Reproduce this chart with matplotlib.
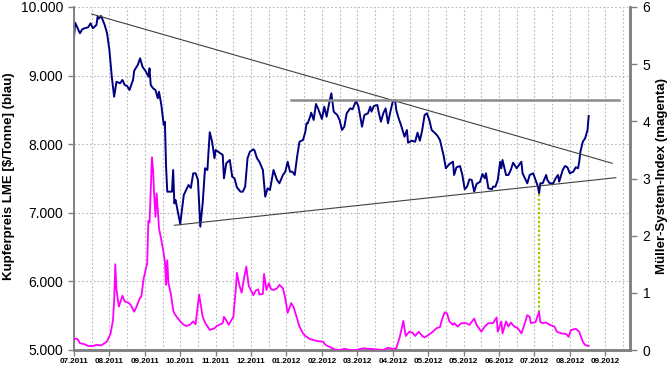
import pandas as pd
import matplotlib
matplotlib.use('Agg')
import matplotlib.pyplot as plt
from matplotlib.ticker import FuncFormatter, MultipleLocator

plt.rcParams['font.family'] = ['Liberation Sans', 'DejaVu Sans']

# Kupferpreis LME [$/Tonne] (blau)
kupfer_datum = [
    '2011-07-06', '2011-07-07', '2011-07-11', '2011-07-13', '2011-07-15', '2011-07-18', '2011-07-20',
    '2011-07-22', '2011-07-25', '2011-07-26', '2011-07-27', '2011-07-29', '2011-08-01', '2011-08-03',
    '2011-08-05', '2011-08-07', '2011-08-09', '2011-08-11', '2011-08-14', '2011-08-16', '2011-08-18',
    '2011-08-20', '2011-08-22', '2011-08-25', '2011-08-26', '2011-08-29', '2011-08-31', '2011-09-02',
    '2011-09-05', '2011-09-07', '2011-09-08', '2011-09-09', '2011-09-11', '2011-09-13', '2011-09-15',
    '2011-09-16', '2011-09-18', '2011-09-20', '2011-09-21', '2011-09-22', '2011-09-23', '2011-09-27',
    '2011-09-28', '2011-09-29', '2011-09-30', '2011-10-04', '2011-10-07', '2011-10-09', '2011-10-11',
    '2011-10-13', '2011-10-15', '2011-10-17', '2011-10-19', '2011-10-21', '2011-10-23', '2011-10-25',
    '2011-10-27', '2011-10-29', '2011-10-31', '2011-11-02', '2011-11-03', '2011-11-07', '2011-11-09',
    '2011-11-10', '2011-11-12', '2011-11-15', '2011-11-17', '2011-11-19', '2011-11-21', '2011-11-24',
    '2011-11-26', '2011-11-28', '2011-11-30', '2011-12-02', '2011-12-05', '2011-12-06', '2011-12-08',
    '2011-12-10', '2011-12-13', '2011-12-15', '2011-12-17', '2011-12-19', '2011-12-22', '2011-12-25',
    '2011-12-27', '2011-12-30', '2012-01-01', '2012-01-03', '2012-01-05', '2012-01-07', '2012-01-09',
    '2012-01-11', '2012-01-13', '2012-01-16', '2012-01-18', '2012-01-19', '2012-01-20', '2012-01-22',
    '2012-01-23', '2012-01-25', '2012-01-27', '2012-01-29', '2012-02-01', '2012-02-03', '2012-02-05',
    '2012-02-07', '2012-02-09', '2012-02-11', '2012-02-14', '2012-02-16', '2012-02-18', '2012-02-20',
    '2012-02-22', '2012-02-25', '2012-02-27', '2012-03-01', '2012-03-03', '2012-03-06', '2012-03-08',
    '2012-03-11', '2012-03-13', '2012-03-14', '2012-03-16', '2012-03-19', '2012-03-20', '2012-03-22',
    '2012-03-24', '2012-03-26', '2012-03-28', '2012-03-30', '2012-04-01', '2012-04-03', '2012-04-04',
    '2012-04-06', '2012-04-08', '2012-04-11', '2012-04-13', '2012-04-14', '2012-04-17', '2012-04-20',
    '2012-04-22', '2012-04-24', '2012-04-26', '2012-04-28', '2012-04-30', '2012-05-02', '2012-05-04',
    '2012-05-07', '2012-05-09', '2012-05-11', '2012-05-14', '2012-05-16', '2012-05-19', '2012-05-22',
    '2012-05-23', '2012-05-25', '2012-05-28', '2012-05-30', '2012-06-01', '2012-06-03', '2012-06-05',
    '2012-06-07', '2012-06-09', '2012-06-11', '2012-06-14', '2012-06-16', '2012-06-18', '2012-06-19',
    '2012-06-21', '2012-06-24', '2012-06-25', '2012-06-27', '2012-06-29', '2012-07-01', '2012-07-02',
    '2012-07-03', '2012-07-05', '2012-07-06', '2012-07-08', '2012-07-10', '2012-07-12', '2012-07-15',
    '2012-07-17', '2012-07-19', '2012-07-20', '2012-07-22', '2012-07-24', '2012-07-26', '2012-07-29',
    '2012-07-31', '2012-08-02', '2012-08-03', '2012-08-04', '2012-08-06', '2012-08-09', '2012-08-10',
    '2012-08-12', '2012-08-15', '2012-08-17', '2012-08-19', '2012-08-20', '2012-08-23', '2012-08-25',
    '2012-08-27', '2012-08-29', '2012-09-01', '2012-09-03', '2012-09-05', '2012-09-06', '2012-09-07',
    '2012-09-09', '2012-09-11', '2012-09-13', '2012-09-14',
]
kupfer_preis = [
    9567, 9771, 9617, 9675, 9690, 9704, 9762,
    9690, 9738, 9859, 9830, 9869, 9738, 9617,
    9373, 8984, 8692, 8911, 8888, 8936, 8863,
    8848, 8790, 8936, 9071, 9155, 9252, 9130,
    9057, 8984, 9106, 8863, 8815, 8790, 8669,
    8765, 8571, 8280, 8328, 7672, 7308, 7308,
    7624, 7138, 7187, 6837, 7260, 7332, 7405,
    7362, 7576, 7576, 7478, 6797, 7138, 7649,
    7624, 8175, 8036, 7795, 7916, 7867, 7843,
    7503, 7722, 7770, 7526, 7503, 7372, 7308,
    7308, 7381, 7795, 7891, 7926, 7905, 7795,
    7745, 7624, 7235, 7357, 7332, 7624, 7478,
    7430, 7551, 7599, 7745, 7599, 7599, 7551,
    7818, 8036, 8061, 8182, 8305, 8305, 8401,
    8459, 8353, 8586, 8509, 8367, 8547, 8401,
    8586, 8742, 8474, 8426, 8353, 8207, 8255,
    8450, 8523, 8509, 8634, 8547, 8255, 8426,
    8450, 8547, 8474, 8557, 8571, 8474, 8328,
    8450, 8523, 8305, 8474, 8620, 8644, 8499,
    8378, 8280, 8109, 8207, 8022, 8051, 8036,
    8168, 8051, 8207, 8426, 8450, 8353, 8207,
    8159, 8120, 8061, 7843, 7649, 7711, 7745,
    7551, 7663, 7682, 7551, 7343, 7381, 7488,
    7478, 7308, 7420, 7453, 7566, 7503, 7576,
    7357, 7343, 7381, 7381, 7478, 7745, 7649,
    7770, 7624, 7551, 7551, 7624, 7730, 7649,
    7697, 7745, 7576, 7503, 7430, 7551, 7576,
    7478, 7381, 7284, 7430, 7430, 7551, 7478,
    7430, 7430, 7503, 7551, 7454, 7624, 7682,
    7663, 7576, 7599, 7663, 7649, 7745, 7891,
    8036, 8086, 8207, 8411,
]

# Müller-System-Index (magenta)
index_datum = [
    '2011-07-06', '2011-07-09', '2011-07-11', '2011-07-15', '2011-07-18', '2011-07-22', '2011-07-25',
    '2011-07-29', '2011-08-01', '2011-08-03', '2011-08-06', '2011-08-08', '2011-08-09', '2011-08-10',
    '2011-08-11', '2011-08-13', '2011-08-14', '2011-08-16', '2011-08-18', '2011-08-21', '2011-08-23',
    '2011-08-26', '2011-08-28', '2011-08-31', '2011-09-01', '2011-09-03', '2011-09-06', '2011-09-07',
    '2011-09-08', '2011-09-10', '2011-09-11', '2011-09-12', '2011-09-13', '2011-09-14', '2011-09-15',
    '2011-09-16', '2011-09-18', '2011-09-20', '2011-09-21', '2011-09-22', '2011-09-23', '2011-09-24',
    '2011-09-26', '2011-09-28', '2011-09-29', '2011-10-01', '2011-10-04', '2011-10-07', '2011-10-09',
    '2011-10-12', '2011-10-15', '2011-10-17', '2011-10-20', '2011-10-23', '2011-10-25', '2011-10-29',
    '2011-11-02', '2011-11-04', '2011-11-09', '2011-11-10', '2011-11-12', '2011-11-14', '2011-11-18',
    '2011-11-20', '2011-11-21', '2011-11-23', '2011-11-25', '2011-11-27', '2011-11-29', '2011-12-01',
    '2011-12-05', '2011-12-07', '2011-12-09', '2011-12-10', '2011-12-13', '2011-12-14', '2011-12-16',
    '2011-12-18', '2011-12-20', '2011-12-22', '2011-12-25', '2011-12-27', '2011-12-30', '2012-01-01',
    '2012-01-03', '2012-01-06', '2012-01-08', '2012-01-11', '2012-01-13', '2012-01-16', '2012-01-18',
    '2012-01-22', '2012-01-25', '2012-01-27', '2012-02-02', '2012-02-04', '2012-02-09', '2012-02-12',
    '2012-02-16', '2012-02-20', '2012-02-25', '2012-03-01', '2012-03-07', '2012-03-13', '2012-03-18',
    '2012-03-24', '2012-03-28', '2012-04-01', '2012-04-04', '2012-04-07', '2012-04-10', '2012-04-12',
    '2012-04-15', '2012-04-18', '2012-04-20', '2012-04-23', '2012-04-26', '2012-04-28', '2012-05-01',
    '2012-05-05', '2012-05-08', '2012-05-11', '2012-05-13', '2012-05-15', '2012-05-17', '2012-05-19',
    '2012-05-22', '2012-05-23', '2012-05-26', '2012-05-29', '2012-06-02', '2012-06-05', '2012-06-09',
    '2012-06-11', '2012-06-15', '2012-06-18', '2012-06-21', '2012-06-25', '2012-06-28', '2012-06-29',
    '2012-07-02', '2012-07-03', '2012-07-06', '2012-07-08', '2012-07-10', '2012-07-13', '2012-07-16',
    '2012-07-19', '2012-07-21', '2012-07-24', '2012-07-26', '2012-07-27', '2012-07-31', '2012-08-03',
    '2012-08-04', '2012-08-06', '2012-08-09', '2012-08-12', '2012-08-16', '2012-08-18', '2012-08-22',
    '2012-08-26', '2012-08-28', '2012-08-30', '2012-09-03', '2012-09-06', '2012-09-09', '2012-09-11',
    '2012-09-14',
]
index_wert = [
    0.20, 0.19, 0.12, 0.10, 0.07, 0.07, 0.09,
    0.08, 0.12, 0.15, 0.29, 0.52, 0.85, 1.50,
    1.05, 0.76, 0.82, 0.95, 0.85, 0.83, 0.79,
    0.67, 0.76, 0.92, 0.93, 1.25, 1.52, 2.26,
    2.23, 3.37, 3.15, 2.68, 2.33, 2.74, 2.45,
    2.13, 1.92, 1.69, 1.55, 1.14, 1.57, 1.17,
    0.99, 0.70, 0.64, 0.58, 0.50, 0.44, 0.42,
    0.44, 0.50, 0.45, 0.97, 0.58, 0.48, 0.35,
    0.38, 0.42, 0.47, 0.58, 0.52, 0.44, 0.58,
    1.05, 1.35, 1.14, 1.00, 1.25, 1.46, 1.12,
    0.96, 1.04, 1.06, 0.97, 0.98, 1.33, 1.05,
    1.17, 1.06, 1.05, 1.08, 1.14, 1.08, 0.90,
    0.65, 0.82, 0.75, 0.55, 0.41, 0.29, 0.245,
    0.19, 0.175, 0.16, 0.145, 0.09, 0.04, 0.01,
    0.0, 0.02, 0.0, 0.0, 0.03, 0.02, 0.01,
    0.0, 0.04, 0.02, 0.03, 0.23, 0.51, 0.245,
    0.32, 0.30, 0.245, 0.32, 0.245, 0.22, 0.26,
    0.32, 0.38, 0.40, 0.55, 0.66, 0.64, 0.50,
    0.44, 0.47, 0.41, 0.47, 0.47, 0.44, 0.55,
    0.44, 0.32, 0.41, 0.47, 0.47, 0.57, 0.32,
    0.50, 0.29, 0.50, 0.41, 0.48, 0.41, 0.38,
    0.29, 0.41, 0.61, 0.58, 0.47, 0.49, 0.67,
    0.49, 0.47, 0.48, 0.44, 0.41, 0.32, 0.29,
    0.28, 0.23, 0.35, 0.37, 0.32, 0.145, 0.087,
    0.07,
]

# Trendlinien (Datum, Preis)
trend_oben = [('2011-07-21', 9898), ('2012-10-04', 7722)]
trend_unten = [('2011-09-29', 6818), ('2012-10-07', 7512)]
widerstand = [('2012-01-06', 8644), ('2012-10-10', 8644)]
# Signal-Linie: Datum, Kupferpreis oben, Index unten
signal_datum = '2012-08-03'
signal_preis = 7284
signal_index = 0.67

x_start = '2011-07-06'
x_ende = '2012-10-19'
x_labels = ['07.2011', '08.2011', '09.2011', '10.2011', '11.2011', '12.2011', '01.2012', '02.2012',
            '03.2012', '04.2012', '05.2012', '05.2012', '06.2012', '07.2012', '08.2012', '09.2012']

#----------------------------------------------------------

fig = plt.figure(figsize=(6.7, 3.68), dpi=100)
ax = fig.add_axes([74 / 670, 18 / 368, 556 / 670, 343 / 368])
ax2 = ax.twinx()

grau = '#808080'

ax.set_xlim(pd.Timestamp(x_start), pd.Timestamp(x_ende))
ax.set_ylim(5000, 10000)
ax2.set_ylim(0, 6)

# x-Achse: alle 30 Tage ein Label, Gitter alle 15 Tage
major = pd.date_range(x_start, periods=len(x_labels), freq='30D')
minor = pd.date_range(x_start, periods=2 * len(x_labels), freq='15D')
ax.set_xticks(major)
ax.set_xticklabels(x_labels)
ax.set_xticks(minor, minor=True)
ax.tick_params(axis='x', which='major', labelsize=5.8, length=4, width=1, color=grau, pad=1.5)
ax.tick_params(axis='x', which='minor', length=0)
for t in ax.get_xticklabels():
    t.set_fontweight('bold')

ax.yaxis.set_major_locator(MultipleLocator(1000))
ax.yaxis.set_major_formatter(FuncFormatter(lambda v, p: f"{int(v):,}".replace(',', '.')))
ax.tick_params(axis='y', labelsize=10, length=4, width=1, color=grau, pad=4)
ax2.yaxis.set_major_locator(MultipleLocator(1))
ax2.tick_params(axis='y', labelsize=10, length=5, width=1, color=grau, pad=4)

ax.grid(True, which='both', axis='x', color='#b8b8b8', linestyle=(0, (1.5, 2)), linewidth=0.8)
ax.grid(True, which='major', axis='y', color='#b8b8b8', linestyle=(0, (1.5, 2)), linewidth=0.8)

for a in (ax, ax2):
    a.spines['top'].set_visible(False)
    a.spines['left'].set_color(grau)
    a.spines['bottom'].set_color(grau)
    a.spines['right'].set_color(grau)
    a.spines['left'].set_linewidth(1.2)
    a.spines['bottom'].set_linewidth(1.8)
    a.spines['right'].set_linewidth(1.8)

ax.set_ylabel('Kupferpreis LME [$/Tonne] (blau)', fontsize=9.5, fontweight='bold')
ax.yaxis.set_label_coords(-0.106, 0.507)
ax2.set_ylabel('Müller-System-Index (magenta)', fontsize=9.5, fontweight='bold')
ax2.yaxis.set_label_coords(1.047, 0.507)

# Linien
ax.plot(pd.to_datetime(kupfer_datum), kupfer_preis, color='#000080', linewidth=1.4, zorder=3)
ax2.plot(pd.to_datetime(index_datum), index_wert, color='#FF00FF', linewidth=1.3, zorder=3)

for linie, farbe, lw in [(trend_oben, '#404040', 0.8), (trend_unten, '#404040', 0.8), (widerstand, '#8c8c8c', 1.8)]:
    d = [pd.Timestamp(p[0]) for p in linie]
    v = [p[1] for p in linie]
    ax.plot(d, v, color=farbe, linewidth=lw, zorder=4)

# grüne gepunktete Signallinie (Index in Preis-Skala umgerechnet)
y_unten = 5000 + signal_index / 6 * 5000
ax.plot([pd.Timestamp(signal_datum)] * 2, [y_unten, signal_preis], color='#99CC00',
        linewidth=1.6, linestyle=(0, (1, 1)), zorder=2)

fig.savefig('out.png', dpi=100)
